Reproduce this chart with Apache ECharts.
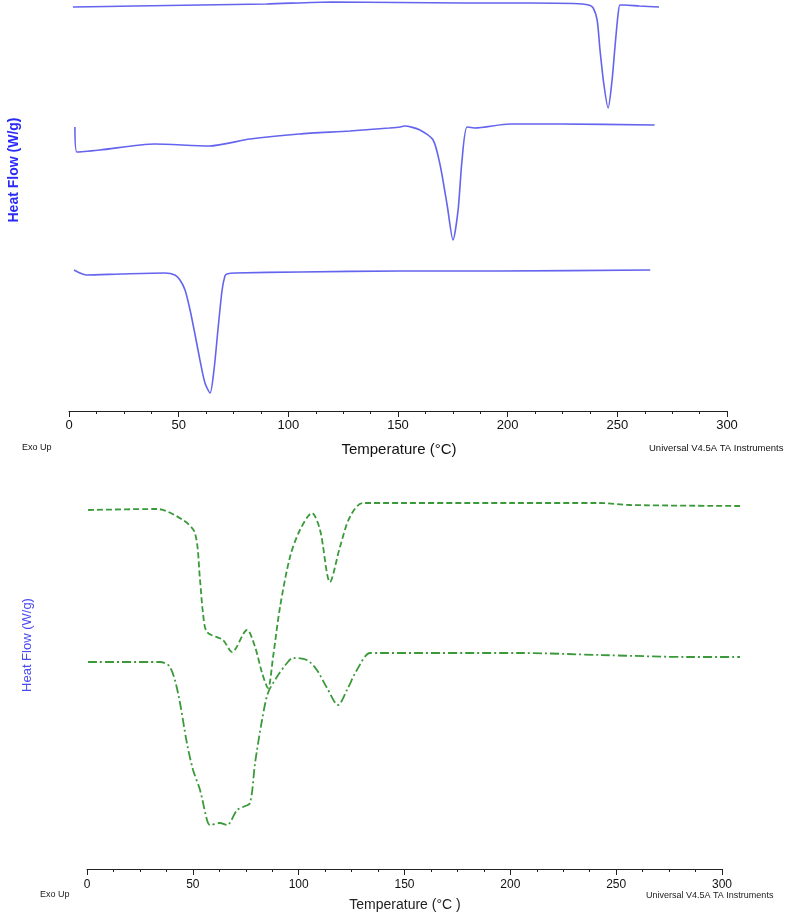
<!DOCTYPE html>
<html>
<head>
<meta charset="UTF-8">
<title>DSC thermograms</title>
<script type="text/javascript" src="https://cdn.jsdelivr.net/npm/echarts@6/dist/echarts.min.js"></script>
<style>
  html, body { margin: 0; padding: 0; background: #fff; }
  #main { width: 800px; height: 914px; }
</style>
</head>
<body>
<div id="main"></div>
<script type="text/javascript">
// x ticks, shared by both panels
var tempTicks = [0, 50, 100, 150, 200, 250, 300];

// upper panel, heat flow in arbitrary stacked units (baseline = axis)
var tA = [1.8, 30, 60, 90, 120, 150, 180, 210, 230, 237, 239, 240.8, 242.1, 243.9, 245.8, 247.6, 249, 250.3, 251.2, 253, 260, 269];
var hA = [404, 405, 406, 407, 409, 408.5, 408, 408, 407.5, 406, 403, 391, 361, 326, 303, 331, 366, 396, 406, 406, 405, 404];

var tB = [2.7, 3.6, 14.1, 39, 64, 82.5, 105, 128, 146, 151, 153, 160, 166, 169.2, 172.4, 175.1, 177.4, 179.2, 181.5, 185, 201, 224, 267];
var hB = [284, 259, 261, 267, 265, 272, 277, 280, 283, 284, 285, 281, 271, 246, 206, 171, 201, 251, 284, 283, 287, 287, 286];

var tC = [2.3, 5, 7.8, 23.3, 43.8, 48.3, 50.6, 52.9, 55.2, 57.5, 59.7, 62, 64.3, 66.1, 67.9, 69.8, 71.1, 72, 75.7, 105.3, 151, 196.5, 265];
var hC = [141, 138, 136, 137, 138, 136, 131, 121, 101, 76, 51, 28, 18, 41, 81, 121, 135, 137, 138, 139, 140, 140, 141];

// lower panel (recording runs a little past the last tick)
var tD = [0.5, 33.1, 45.3, 51, 53.4, 54.8, 56.7, 64.2, 68.5, 75.6, 79.4, 82.7, 85.5, 87.9, 91.2, 95.9, 100.6, 106.3, 110.1, 114.8, 119.5, 124.2, 130.4, 200, 242, 256.5, 308.5];
var hD = [359, 360, 349, 336, 289, 256, 237, 229, 217, 239, 222, 196, 181, 212, 262, 312, 339, 356, 339, 287, 322, 352, 366, 366, 366, 364, 363];

var tE = [0.5, 34.5, 39.2, 43, 47.2, 50.1, 53.4, 56.7, 58.1, 62.8, 66.1, 70.9, 73.7, 77, 79.4, 82.7, 85.5, 89.7, 94.5, 97.3, 103.9, 108.6, 113.4, 118.6, 122.8, 127.5, 133.7, 138.4, 204.5, 242.3, 284.8, 308.5];
var hE = [207, 207, 202, 176, 126, 99, 79, 49, 44, 46, 44, 59, 62, 66, 106, 149, 176, 192, 206, 211, 209, 199, 181, 164, 179, 199, 216, 216, 216, 214, 212, 212];

function pairs(xs, ys) {
    return xs.map(function (x, i) { return [x, ys[i]]; });
}

var myChart = echarts.init(document.getElementById('main'));

var font = 'Liberation Sans, Arial, sans-serif';

function xAxisFor(gridIndex, labelSize, margin) {
    return {
        type: 'value',
        gridIndex: gridIndex,
        min: 0, max: 300, interval: 50,
        axisLine: { show: true, lineStyle: { color: '#222', width: 1 } },
        axisTick: { show: true, inside: false, length: 6, lineStyle: { color: '#222' } },
        minorTick: { show: true, splitNumber: 4, length: 3, lineStyle: { color: '#222' } },
        splitLine: { show: false },
        axisLabel: {
            color: '#111', fontFamily: font, fontSize: labelSize, margin: margin,
            formatter: function (v) { return tempTicks.indexOf(v) >= 0 ? String(v) : ''; }
        }
    };
}

function yAxisFor(gridIndex, max) {
    return {
        type: 'value', gridIndex: gridIndex, min: 0, max: max,
        show: false, splitLine: { show: false }
    };
}

var blue = '#6464ee';
var green = '#3a9a3a';

var option = {
    animation: false,
    backgroundColor: '#fff',
    grid: [
        { left: 69, right: 73, top: 0, bottom: 503 },
        { left: 87, right: 78, top: 480, bottom: 45 },
        // same scale as grid 1, widened so the traces can run past 300
        { left: 87, right: 60, top: 480, bottom: 45 }
    ],
    xAxis: [
        xAxisFor(0, 13, 8),
        xAxisFor(1, 12, 10),
        { type: 'value', gridIndex: 2, min: 0, max: 308.5, show: false, splitLine: { show: false } }
    ],
    yAxis: [yAxisFor(0, 411), yAxisFor(1, 389), yAxisFor(2, 389)],
    series: [
        { type: 'line', xAxisIndex: 0, yAxisIndex: 0, data: pairs(tA, hA), showSymbol: false, smooth: 0.25, clip: false,
          lineStyle: { color: blue, width: 1.6 } },
        { type: 'line', xAxisIndex: 0, yAxisIndex: 0, data: pairs(tB, hB), showSymbol: false, smooth: 0.25, clip: false,
          lineStyle: { color: blue, width: 1.6 } },
        { type: 'line', xAxisIndex: 0, yAxisIndex: 0, data: pairs(tC, hC), showSymbol: false, smooth: 0.25, clip: false,
          lineStyle: { color: blue, width: 1.6 } },
        { type: 'line', xAxisIndex: 2, yAxisIndex: 2, data: pairs(tD, hD), showSymbol: false, smooth: 0.3,
          lineStyle: { color: green, width: 1.8, type: [6, 3] } },
        { type: 'line', xAxisIndex: 2, yAxisIndex: 2, data: pairs(tE, hE), showSymbol: false, smooth: 0.3,
          lineStyle: { color: green, width: 1.8, type: [9, 3, 2, 3] } }
    ],
    graphic: [
        { type: 'text', x: 14, y: 170, rotation: Math.PI / 2,
          style: { text: 'Heat Flow (W/g)', fill: '#2a2af5', font: 'bold 14px ' + font, align: 'center', verticalAlign: 'middle' } },
        { type: 'text', x: 399, y: 450,
          style: { text: 'Temperature (°C)', fill: '#111', font: '15px ' + font, align: 'center', verticalAlign: 'middle' } },
        { type: 'text', x: 22, y: 448,
          style: { text: 'Exo Up', fill: '#111', font: '9px ' + font, verticalAlign: 'middle' } },
        { type: 'text', x: 649, y: 448,
          style: { text: 'Universal V4.5A TA Instruments', fill: '#111', font: '9.5px ' + font, verticalAlign: 'middle' } },

        { type: 'text', x: 27, y: 645, rotation: Math.PI / 2,
          style: { text: 'Heat Flow (W/g)', fill: '#4b4bf0', font: '13px ' + font, align: 'center', verticalAlign: 'middle' } },
        { type: 'text', x: 405, y: 905,
          style: { text: 'Temperature (°C )', fill: '#222', font: '14px ' + font, align: 'center', verticalAlign: 'middle' } },
        { type: 'text', x: 40, y: 895,
          style: { text: 'Exo Up', fill: '#222', font: '9px ' + font, verticalAlign: 'middle' } },
        { type: 'text', x: 646, y: 896,
          style: { text: 'Universal V4.5A TA Instruments', fill: '#222', font: '9px ' + font, verticalAlign: 'middle' } }
    ]
};

myChart.setOption(option);
</script>
</body>
</html>
